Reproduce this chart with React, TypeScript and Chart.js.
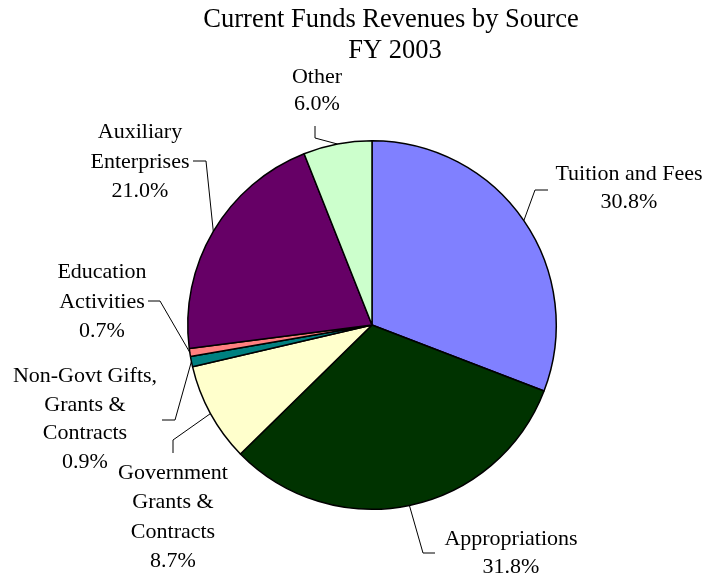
import React, { useEffect, useRef } from "react";
import { Chart, registerables } from "chart.js";

Chart.register(...registerables);

const categories = [
  "Tuition and Fees",
  "Appropriations",
  "Government Grants & Contracts",
  "Non-Govt Gifts, Grants & Contracts",
  "Education Activities",
  "Auxiliary Enterprises",
  "Other",
];
const values = [30.8, 31.8, 8.7, 0.9, 0.7, 21.0, 6.0];
const percentLabels = ["30.8%", "31.8%", "8.7%", "0.9%", "0.7%", "21.0%", "6.0%"];
const labelLines = [
  ["Tuition and Fees"],
  ["Appropriations"],
  ["Government", "Grants &", "Contracts"],
  ["Non-Govt Gifts,", "Grants &", "Contracts"],
  ["Education", "Activities"],
  ["Auxiliary", "Enterprises"],
  ["Other"],
];
const colors = ["#8080FF", "#003300", "#FFFFCC", "#008080", "#FF8080", "#660066", "#CCFFCC"];
const titleLines = ["Current Funds Revenues by Source", "FY 2003"];

// layout: text center x, first baseline y, line spacing, elbow point, end point
const labelLayout = [
  { x: 629, y: 180, dy: 28, elbow: [535, 190], end: [548, 190] },
  { x: 511, y: 545, dy: 28, elbow: [423, 553], end: [435, 553] },
  { x: 173, y: 479, dy: 29.3, elbow: [173, 440], end: [173, 453] },
  { x: 85, y: 382, dy: 28.5, elbow: [175, 420], end: [162, 420] },
  { x: 102, y: 278, dy: 29.5, elbow: [160, 301], end: [148, 301] },
  { x: 140, y: 138, dy: 29.5, elbow: [206, 161], end: [193, 161] },
  { x: 317, y: 83, dy: 27, elbow: [315, 138], end: [315, 126] },
];

const FONT = "'Liberation Serif', 'Times New Roman', serif";

const labelPlugin = {
  id: "pieLabels",
  afterDraw(chart: any) {
    const ctx = chart.ctx;
    ctx.save();
    ctx.fillStyle = "#000";
    ctx.textAlign = "center";
    ctx.textBaseline = "alphabetic";
    ctx.font = `26.5px ${FONT}`;
    ctx.fillText(titleLines[0], 391, 27);
    ctx.fillText(titleLines[1], 395, 58);

    const meta = chart.getDatasetMeta(0);
    ctx.font = `22px ${FONT}`;
    meta.data.forEach((arc: any, i: number) => {
      const L = labelLayout[i];
      const mid = (arc.startAngle + arc.endAngle) / 2;
      const ex = arc.x + Math.cos(mid) * arc.outerRadius;
      const ey = arc.y + Math.sin(mid) * arc.outerRadius;
      ctx.strokeStyle = "#000";
      ctx.lineWidth = 1;
      ctx.beginPath();
      ctx.moveTo(ex, ey);
      ctx.lineTo(L.elbow[0], L.elbow[1]);
      ctx.lineTo(L.end[0], L.end[1]);
      ctx.stroke();
      const lines = [...labelLines[i], percentLabels[i]];
      lines.forEach((t, k) => {
        ctx.fillText(t, L.x, L.y + k * L.dy);
      });
    });
    ctx.restore();
  },
};

export default function App() {
  const ref = useRef<HTMLCanvasElement>(null);
  useEffect(() => {
    document.body.style.margin = "0";
    const chart = new Chart(ref.current!, {
      type: "pie",
      data: {
        labels: categories,
        datasets: [
          {
            data: values,
            backgroundColor: colors,
            borderColor: "#000",
            borderWidth: 1.5,
          },
        ],
      },
      options: {
        animation: false,
        responsive: false,
        layout: { padding: { left: 187, right: 150, top: 140, bottom: 68 } },
        plugins: {
          legend: { display: false },
          title: { display: false },
          tooltip: { enabled: false },
        },
      },
      plugins: [labelPlugin],
    });
    return () => chart.destroy();
  }, []);
  return (
    <div style={{ width: 707, height: 578 }}>
      <canvas ref={ref} width={707} height={578} />
    </div>
  );
}
